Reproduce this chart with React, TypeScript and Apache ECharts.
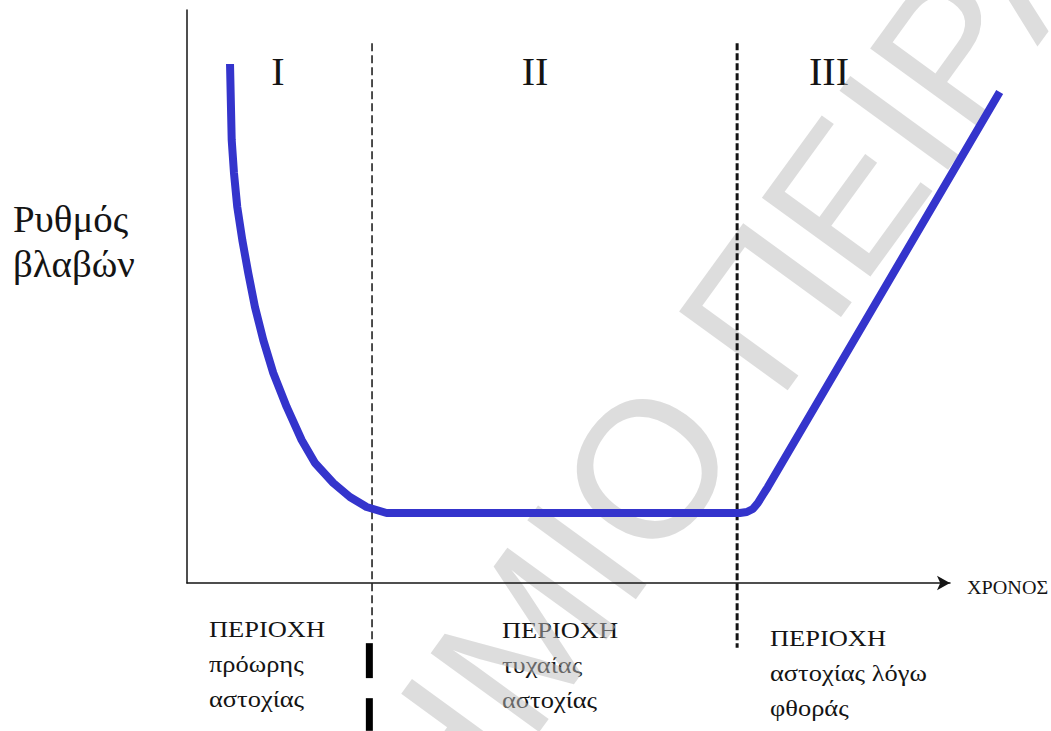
import React, { useEffect, useRef } from "react";
import * as echarts from "echarts";

// Bathtub curve (failure rate vs time)
const timeValues = [5.64, 5.86, 6.16, 6.59, 7.25, 8.03, 8.91, 10.0, 11.31, 13.07, 15.03, 16.78, 19.18, 21.36, 23.55, 26.17, 72.48, 73.39, 74.18, 74.84, 75.49, 76.15, 106.55];
const rateValues = [90.58, 77.31, 71.55, 65.62, 59.86, 54.1, 48.17, 42.41, 36.65, 30.72, 24.96, 20.94, 17.45, 15.01, 13.26, 12.22, 12.22, 12.39, 12.91, 13.96, 15.36, 16.75, 85.69];

// Region boundaries (time) and the extent of the boundary lines (rate units)
const boundaryTimes = [24.25, 72.1];
const boundaryTop = [94.2, 94.2];
const boundaryBottom = [-9.9, -11.3];
const markerTime = 23.9;
const markerSegments = [
  [-10.5, -16.6],
  [-20.1, -25.8],
];

const regionNumerals = ["I", "II", "III"];
const regionTitles = ["ΠΕΡΙΟΧΗ", "ΠΕΡΙΟΧΗ", "ΠΕΡΙΟΧΗ"];
const regionLines = [
  ["πρόωρης", "αστοχίας"],
  ["τυχαίας", "αστοχίας"],
  ["αστοχίας λόγω", "φθοράς"],
];
const yAxisLabel = ["Ρυθμός", "βλαβών"];
const xAxisLabel = "ΧΡΟΝΟΣ";
const watermarkHead = "ΠΑΝΕΠΙΣΤ";
const watermarkTail = "ΗΜΙΟ ΠΕΙΡΑΙΩΣ";

const SERIF = "'Liberation Serif', 'Times New Roman', serif";
const INK = "#141414";

export default function App() {
  const ref = useRef<HTMLDivElement>(null);

  useEffect(() => {
    document.body.style.margin = "0";
    const chart = echarts.init(ref.current!, null, { renderer: "svg" });

    const curve = timeValues.map((t, i) => [t, rateValues[i]]);

    const numeralX = [278, 535, 829];
    const labelX = [209, 502, 770];
    const labelBase = [637, 638, 646];

    const graphics: any[] = [];
    regionNumerals.forEach((n, i) => {
      graphics.push({
        type: "text",
        x: numeralX[i],
        y: 71,
        style: { text: n, font: `40px ${SERIF}`, fill: INK, align: "center", verticalAlign: "middle" },
      });
    });
    regionTitles.forEach((t, i) => {
      const lines = [t, ...regionLines[i]];
      lines.forEach((s, j) => {
        graphics.push({
          type: "text",
          x: labelX[i],
          y: labelBase[i] + j * 35 - 8,
          scaleX: 1.15,
          style: { text: s, font: `23px ${SERIF}`, fill: INK, align: "left", verticalAlign: "middle" },
        });
      });
    });
    yAxisLabel.forEach((s, j) => {
      graphics.push({
        type: "text",
        x: 13,
        y: 219 + j * 45,
        scaleX: 1.05,
        style: { text: s, font: `37px ${SERIF}`, fill: INK, align: "left", verticalAlign: "middle" },
      });
    });
    graphics.push({
      type: "text",
      x: 967,
      y: 588,
      scaleX: 1.12,
      style: { text: xAxisLabel, font: `18px ${SERIF}`, fill: INK, align: "left", verticalAlign: "middle" },
    });
    const wmFont = `195px 'Liberation Sans', Arial, sans-serif`;
    const wmFill = "rgba(188,188,188,0.5)";
    graphics.push({
      type: "group",
      x: 641,
      y: 592,
      rotation: (54 * Math.PI) / 180,
      z: 100,
      silent: true,
      children: [
        {
          type: "text",
          x: -330,
          y: -68,
          style: { text: watermarkHead, font: wmFont, fill: wmFill, align: "right", verticalAlign: "middle" },
        },
        {
          type: "text",
          x: -330,
          y: -68,
          style: { text: watermarkTail, font: wmFont, fill: wmFill, align: "left", verticalAlign: "middle" },
        },
      ],
    });

    const series: any[] = [
      {
        type: "line",
        xAxisIndex: 1,
        yAxisIndex: 1,
        data: curve,
        showSymbol: false,
        clip: false,
        smooth: false,
        lineStyle: { color: "#3434cc", width: 8, join: "round" },
        z: 5,
        silent: true,
      },
    ];
    boundaryTimes.forEach((t, i) => {
      series.push({
        type: "line",
        data: [
          [t, boundaryTop[i]],
          [t, boundaryBottom[i]],
        ],
        showSymbol: false,
        clip: false,
        lineStyle: { color: INK, width: i === 0 ? 1.5 : 3, type: i === 0 ? [8, 4] : [7, 3] },
        z: 3,
        silent: true,
      });
    });
    markerSegments.forEach((seg) => {
      series.push({
        type: "line",
        data: [
          [markerTime, seg[0]],
          [markerTime, seg[1]],
        ],
        showSymbol: false,
        clip: false,
        lineStyle: { color: "#000", width: 7 },
        z: 3,
        silent: true,
      });
    });

    const hiddenAxis = {
      show: false,
      axisLine: { show: false },
      axisTick: { show: false },
      axisLabel: { show: false },
      splitLine: { show: false },
    };

    chart.setOption({
      animation: false,
      backgroundColor: "#ffffff",
      grid: [
        { left: 187, right: 101, top: 10, bottom: 148 },
        { left: 187, right: 25, top: 10, bottom: 148 },
      ],
      xAxis: [
        {
          type: "value",
          gridIndex: 0,
          min: 0,
          max: 100,
          axisLine: {
            show: true,
            onZero: false,
            symbol: ["none", "arrow"],
            symbolSize: [11, 13],
            lineStyle: { color: INK, width: 1.5 },
          },
          axisTick: { show: false },
          axisLabel: { show: false },
          splitLine: { show: false },
        },
        { type: "value", gridIndex: 1, min: 0, max: 110, ...hiddenAxis },
      ],
      yAxis: [
        {
          type: "value",
          gridIndex: 0,
          min: 0,
          max: 100,
          axisLine: { show: true, onZero: false, lineStyle: { color: INK, width: 1.5 } },
          axisTick: { show: false },
          axisLabel: { show: false },
          splitLine: { show: false },
        },
        { type: "value", gridIndex: 1, min: 0, max: 100, ...hiddenAxis },
      ],
      graphic: graphics,
      series,
    });

    return () => chart.dispose();
  }, []);

  return <div ref={ref} style={{ width: 1051, height: 731, background: "#fff" }} />;
}
